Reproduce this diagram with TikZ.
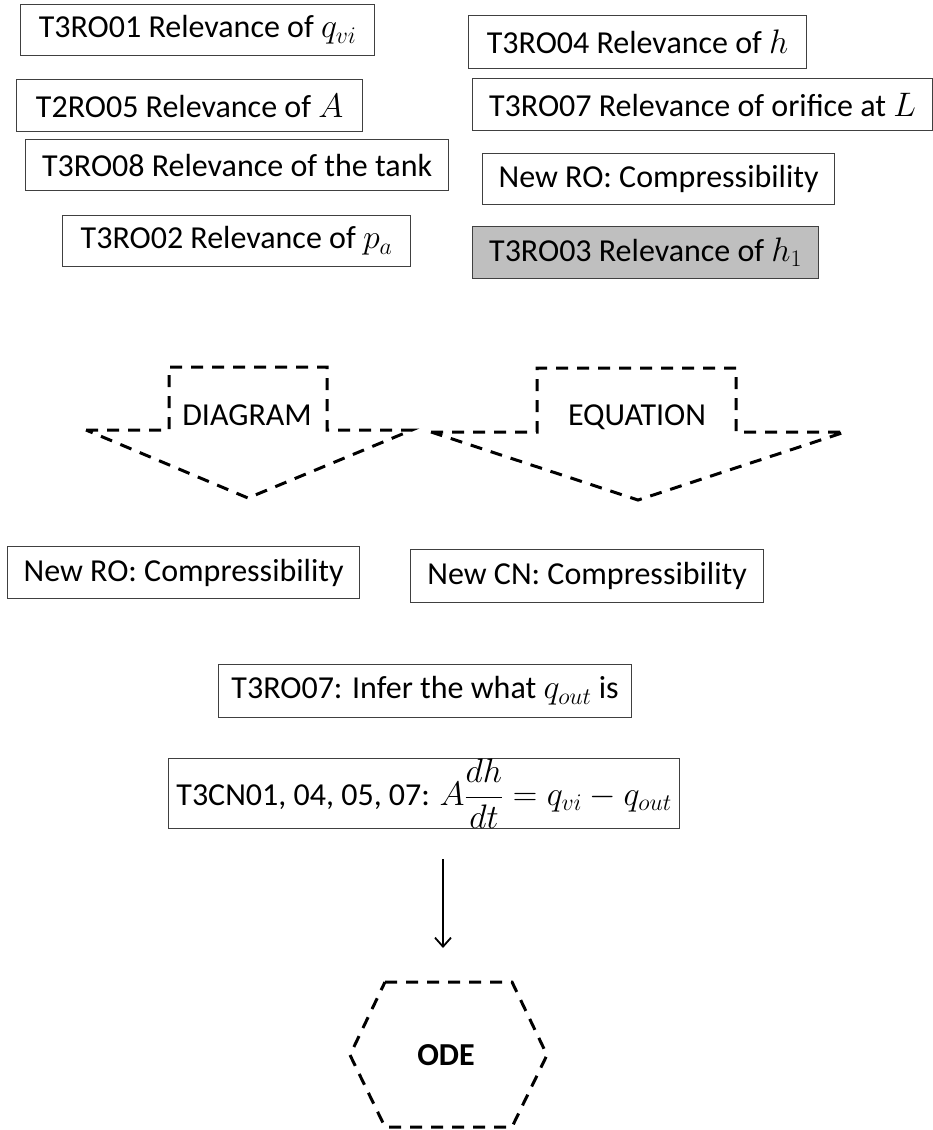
\RequirePackage{fix-cm}
\documentclass[tikz,border=0pt]{standalone}
\usepackage{fontspec}
\setmainfont{Carlito}
\usetikzlibrary{arrows.meta}

\definecolor{boxgray}{HTML}{BFBFBF}
\definecolor{edgegray}{HTML}{404040}

% math a little larger than the text, as in the slide
\newcommand{\mth}[1]{{\fontsize{34}{40}\selectfont$#1$}}

\tikzset{
	rbox/.style={draw=edgegray, line width=1.2pt, anchor=north west, inner sep=0pt, font=\fontsize{32}{38}\selectfont},
	blockarr/.style={line width=3pt, dash pattern=on 12pt off 9pt},
	lbl/.style={font=\fontsize{32}{38}\selectfont}
}

\begin{document}
\begin{tikzpicture}[x=1pt, y=-1pt]
	\useasboundingbox (0,0) rectangle (933,1130);
	% reasoning objects, left column
	\node[rbox, minimum width=354pt, minimum height=51pt] (ro01) at (20,4) {T3RO01 Relevance of \mth{q_{vi}}};
	\node[rbox, minimum width=346pt, minimum height=52pt] (ro05) at (16,79) {T2RO05 Relevance of \mth{A}};
	\node[rbox, minimum width=423pt, minimum height=51pt] (ro08) at (25,139) {T3RO08 Relevance of the tank};
	\node[rbox, minimum width=348pt, minimum height=51pt] (ro02) at (62,215) {T3RO02 Relevance of \mth{p_a}};
	% reasoning objects, right column
	\node[rbox, minimum width=338pt, minimum height=53pt] (ro04) at (468,15) {T3RO04 Relevance of \mth{h}};
	\node[rbox, minimum width=460pt, minimum height=52pt] (ro07) at (472,78) {T3RO07 Relevance of orifice at \mth{L}};
	\node[rbox, minimum width=352pt, minimum height=51pt] (newro) at (482,153) {New RO: Compressibility};
	\node[rbox, fill=boxgray, minimum width=346pt, minimum height=52pt] (ro03) at (472,226) {T3RO03 Relevance of \mth{h_1}};
	% block arrows
	\draw[blockarr] (86,430) -- (169,430) -- (169,367) -- (327,367) -- (327,430) -- (412,430) -- (248,498) -- cycle;
	\node[lbl] (diag) at (247,415) {DIAGRAM};
	\draw[blockarr] (431,432) -- (537,432) -- (537,368) -- (736,368) -- (736,432) -- (845,432) -- (638,500) -- cycle;
	\node[lbl] (eq) at (637,417) {EQUATION};
	% outcomes
	\node[rbox, minimum width=352pt, minimum height=52pt] (newro2) at (7,546) {New RO: Compressibility};
	\node[rbox, minimum width=353pt, minimum height=53pt] (newcn) at (410,549) {New CN: Compressibility};
	\node[rbox, minimum width=413pt, minimum height=53pt] (infer) at (218,664) {T3RO07: Infer the what \mth{q_{out}} is};
	\node[rbox, minimum width=511pt, minimum height=69pt] (cn) at (168,758) {T3CN01, 04, 05, 07: \mth{A\displaystyle\frac{dh}{dt}=q_{vi}-q_{out}}};
	% ODE
	\draw[blockarr] (385,982) -- (512,982) -- (547,1055) -- (512,1127) -- (385,1127) -- (350,1055) -- cycle;
	\node[lbl, font=\fontsize{32}{38}\selectfont\bfseries] (ode) at (446,1055) {ODE};
	\coordinate (a1) at (443,859);
	\coordinate (a2) at (443,948);
	\draw[-{Straight Barb[length=9pt,width=16pt]}, line width=1.8pt] (a1) -- (a2);
\end{tikzpicture}
\end{document}
